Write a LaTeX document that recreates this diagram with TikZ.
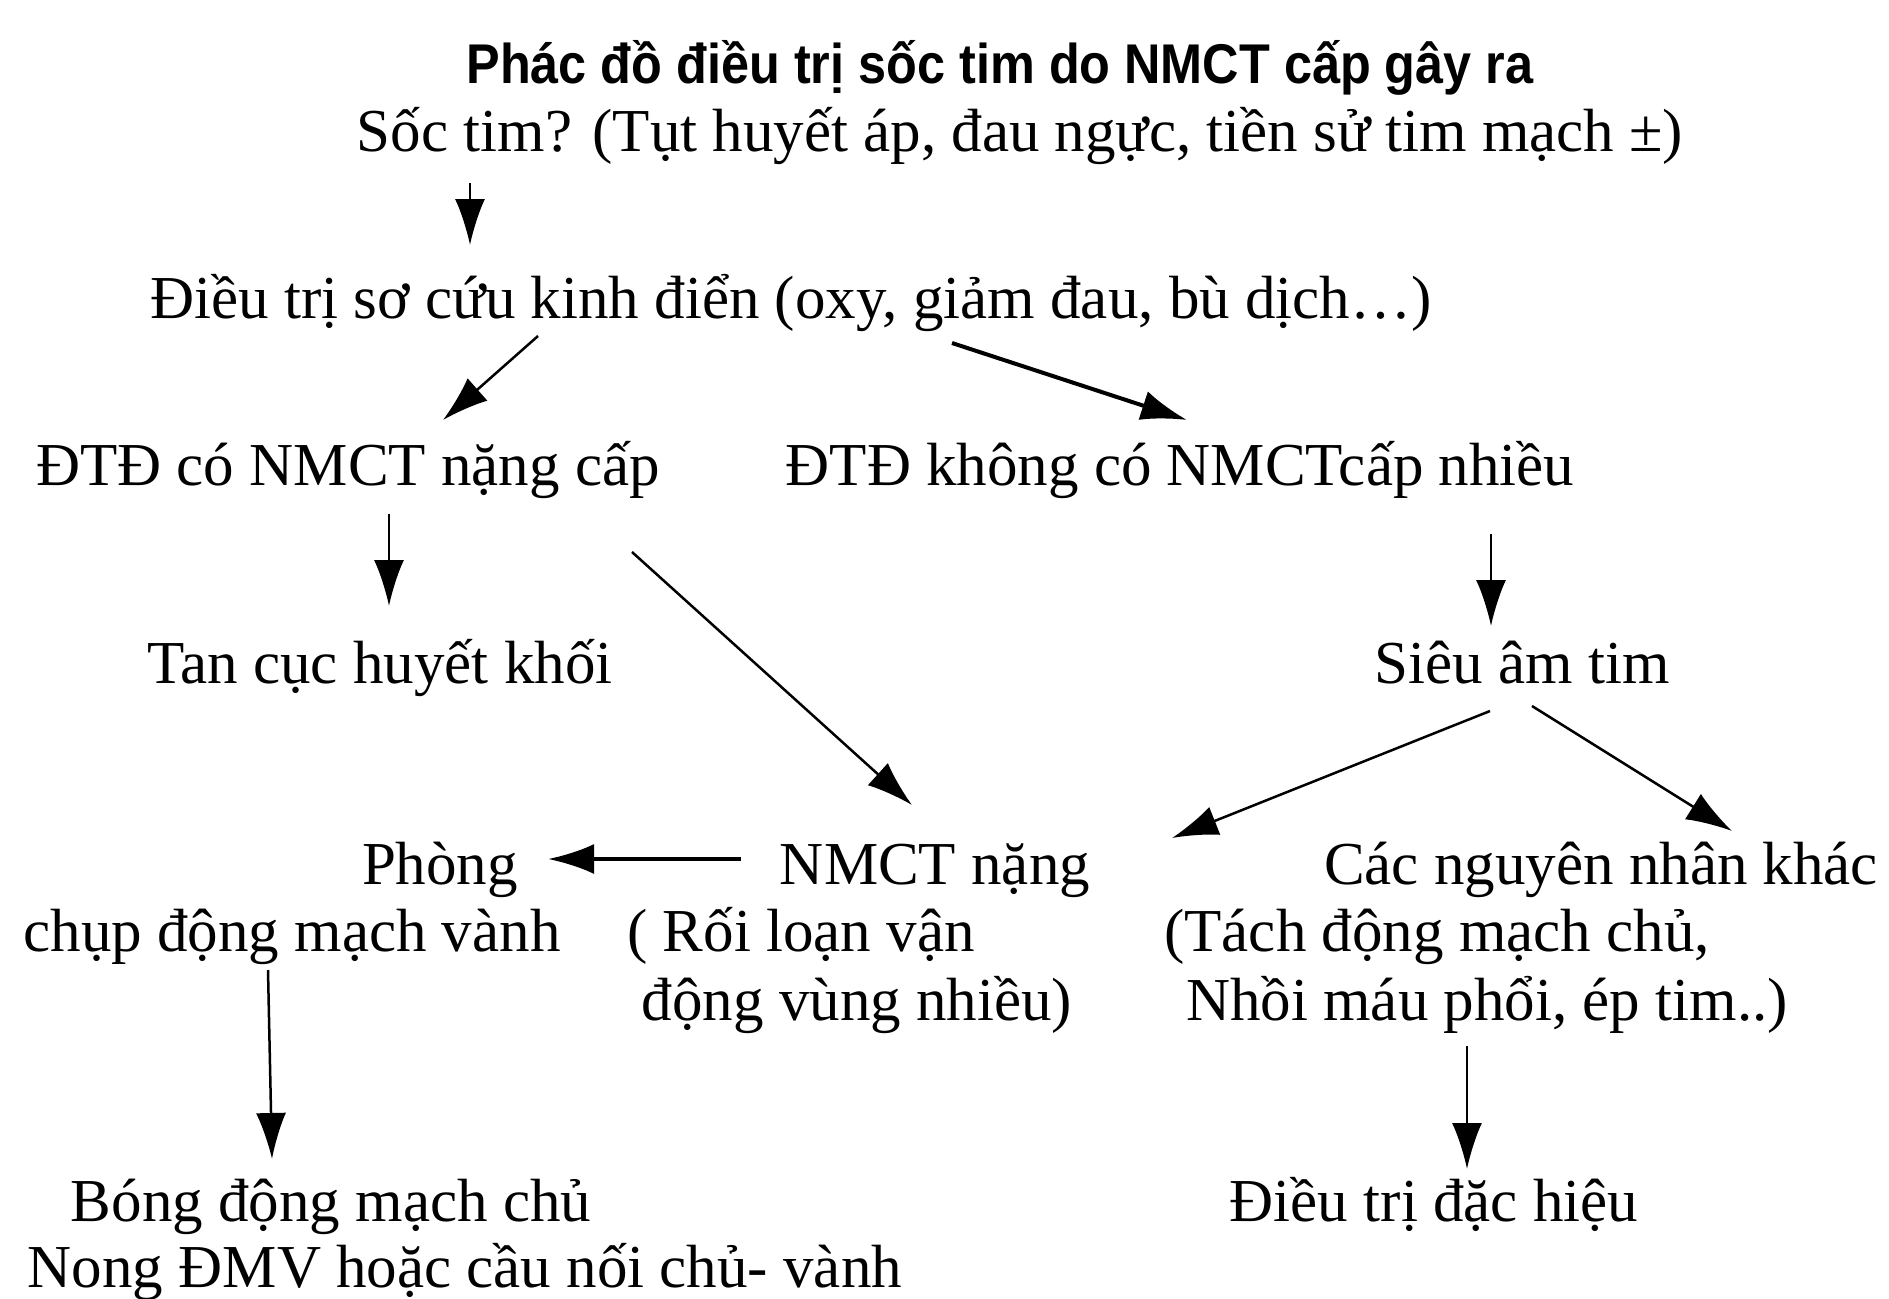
\documentclass[tikz,border=0pt]{standalone}
\usepackage{fontspec}
\setmainfont{Liberation Serif}
\newfontfamily\titlefont[FakeStretch=0.9]{Liberation Sans}
\usetikzlibrary{arrows.meta}
\begin{document}
\begin{tikzpicture}[x=1pt,y=-1pt,
  txt/.style={inner sep=0pt, anchor=base, font=\fontsize{61}{66}\selectfont},
  ttl/.style={inner sep=0pt, anchor=base, font=\titlefont\bfseries\fontsize{56}{60}\selectfont},
  arr/.style={line width=2.5pt, -{Latex[length=46pt,width=30pt]}},
  arrb/.style={arr, line width=4pt}]
\useasboundingbox[fill=white] (0,0) rectangle (1889,1298);
\node[ttl] (title) at (1000,84) {Phác đồ điều trị sốc tim do NMCT cấp gây ra};
\node[txt] (soc) at (1020,151) {Sốc tim? (Tụt huyết áp, đau ngực, tiền sử tim mạch ±)};
\node[txt] (dieutri) at (791,318) {Điều trị sơ cứu kinh điển (oxy, giảm đau, bù dịch…)};
\node[txt] (dtdco) at (348,485) {ĐTĐ có NMCT nặng cấp};
\node[txt] (dtdkhong) at (1180,485) {ĐTĐ không có NMCTcấp nhiều};
\node[txt] (tan) at (380,683) {Tan cục huyết khối};
\node[txt] (sieu) at (1522,683) {Siêu âm tim};
\node[txt] (phong) at (440,884) {Phòng};
\node[txt] (chup) at (292,951) {chụp động mạch vành};
\node[txt] (nmct) at (935,884) {NMCT nặng};
\node[txt] (roi) at (801,951) {( Rối loạn vận};
\node[txt] (dong) at (857,1020) {động vùng nhiều)};
\node[txt] (cac) at (1601,884) {Các nguyên nhân khác};
\node[txt] (tach) at (1437,951) {(Tách động mạch chủ,};
\node[txt] (nhoi) at (1487,1020) {Nhồi máu phổi, ép tim..)};
\node[txt] (dac) at (1434,1221) {Điều trị đặc hiệu};
\node[txt] (bong) at (331,1221) {Bóng động mạch chủ};
\node[txt] (nong) at (465,1287) {Nong ĐMV hoặc cầu nối chủ- vành};
% connector end points
\coordinate (c1s) at (470,183);  \coordinate (c1e) at (470,245);
\coordinate (c2s) at (538,336);  \coordinate (c2e) at (443,420);
\coordinate (c3s) at (952,343);  \coordinate (c3e) at (1187,420);
\coordinate (c4s) at (389,514);  \coordinate (c4e) at (389,606);
\coordinate (c5s) at (632,552);  \coordinate (c5e) at (912,805);
\coordinate (c6s) at (1491,534); \coordinate (c6e) at (1491,626);
\coordinate (c7s) at (1490,711); \coordinate (c7e) at (1172,838);
\coordinate (c8s) at (1532,706); \coordinate (c8e) at (1732,831);
\coordinate (c9s) at (741,859);  \coordinate (c9e) at (548,859);
\coordinate (c10s) at (268,970); \coordinate (c10e) at (272,1159);
\coordinate (c11s) at (1467,1046); \coordinate (c11e) at (1467,1169);
\draw[arr] (c1s) -- (c1e);
\draw[arr] (c2s) -- (c2e);
\draw[arrb] (c3s) -- (c3e);
\draw[arr] (c4s) -- (c4e);
\draw[arr] (c5s) -- (c5e);
\draw[arr] (c6s) -- (c6e);
\draw[arr] (c7s) -- (c7e);
\draw[arr] (c8s) -- (c8e);
\draw[arrb] (c9s) -- (c9e);
\draw[arr] (c10s) -- (c10e);
\draw[arr] (c11s) -- (c11e);
\end{tikzpicture}
\end{document}
